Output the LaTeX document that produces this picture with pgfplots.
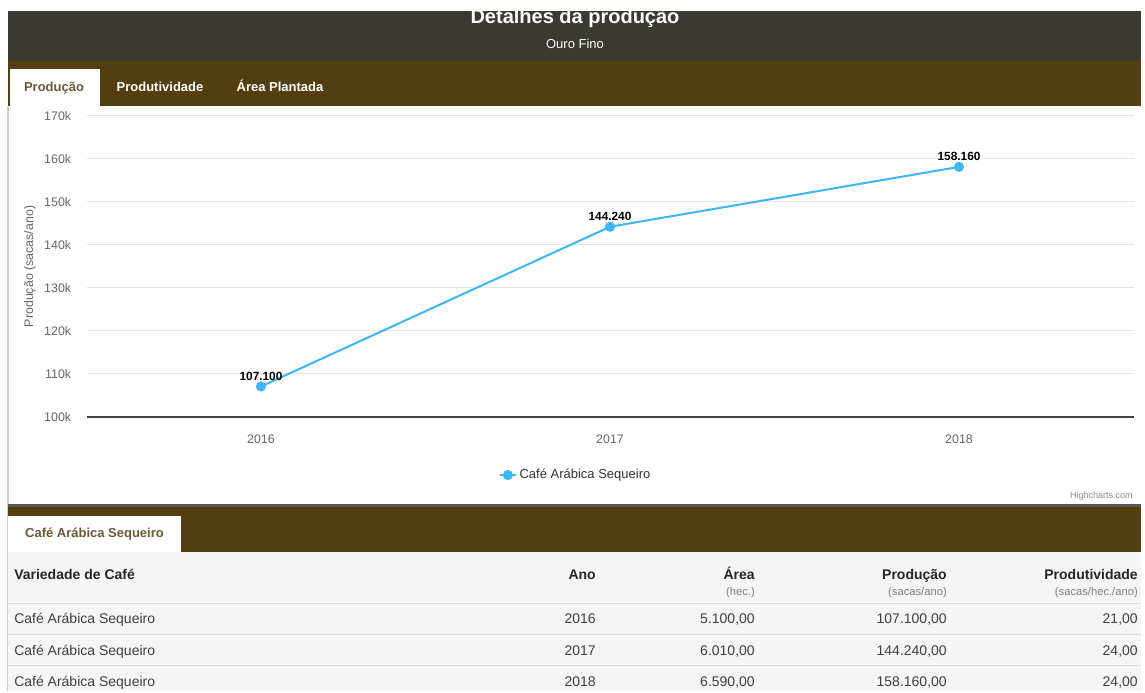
\documentclass[border=0pt]{standalone}
\usepackage{fontspec}
\setmainfont{Liberation Sans}
\usepackage{pgfplots}
\pgfplotsset{compat=1.18}
\definecolor{hdr}{HTML}{3A3A33}
\definecolor{brownbar}{HTML}{533E10}
\definecolor{tabtxt}{HTML}{6B5A3A}
\definecolor{serie}{HTML}{3DB6F7}
\definecolor{gridc}{HTML}{E6E6E6}
\definecolor{tickc}{HTML}{666666}
\definecolor{tblbg}{HTML}{F5F5F5}
\definecolor{sepc}{HTML}{DDDDDD}
\definecolor{bordc}{HTML}{D3CEC6}
\newcommand{\fs}[1]{\fontsize{#1}{#1}\selectfont}
\begin{document}
\begin{tikzpicture}[x=0.75pt,y=0.75pt]
% background
\fill[white] (0,0) rectangle (1145,691);
% header
\fill[hdr] (8,680) rectangle (1141,630);
\node[white,inner sep=0,anchor=base] at (575,667) {\fs{15}\bfseries Detalhes da produção};
\fill[white] (0,691) rectangle (1145,681);
\node[white,inner sep=0,anchor=base] at (575,642) {\fs{9.75}Ouro Fino};
% tab bar
\fill[brownbar] (8,630) rectangle (1141,585);
\fill[white] (10,622) rectangle (100,585);
\node[tabtxt,inner sep=0,anchor=base] at (54,599) {\fs{9.75}\bfseries Produção};
\node[white,inner sep=0,anchor=base] at (160,599) {\fs{9.75}\bfseries Produtividade};
\node[white,inner sep=0,anchor=base] at (280,599) {\fs{9.75}\bfseries Área Plantada};
% left border
\draw[bordc,line width=1.5pt] (7.5,585) -- (7.5,0);
% chart
\begin{axis}[
  at={(64.875pt,205.5pt)}, anchor=south west,
  scale only axis, width=785.25pt, height=225.75pt,
  xmin=-0.5, xmax=2.5, ymin=100000, ymax=170000,
  scaled ticks=false,
  xtick={0,1,2}, xticklabels={2016,2017,2018},
  ytick={110000,120000,130000,140000,150000,160000,170000},
  yticklabels={110k,120k,130k,140k,150k,160k,170k},
  extra y ticks={100000}, extra y tick labels={100k},
  extra y tick style={grid style={color=black!75,line width=0.9pt}},
  ymajorgrids, grid style={color=gridc,line width=0.75pt},
  major tick length=0pt,
  axis line style={draw=none},
  tick label style={font=\fs{9.3}, text=tickc},
  yticklabel style={xshift=-8pt},
  xticklabel style={yshift=-10pt},
  ylabel={Produção (sacas/ano)},
  ylabel style={at={(rel axis cs:-0.054,0.5)}, anchor=center, font=\fs{9.3}, text=tickc},
  legend style={at={(0.4675,-0.193)}, anchor=center, draw=none, fill=none, font=\fs{9.75}, text=black!80},
  legend image code/.code={\draw[mark repeat=2,mark phase=2,#1] plot coordinates {(0pt,0pt) (6pt,0pt) (12pt,0pt)};},
  clip=false,
]
\addplot[serie, line width=1.5pt, mark=*, mark size=3pt, mark options={fill=serie,draw=serie},
  nodes near coords, point meta=explicit symbolic,
  every node near coord/.append style={font=\fs{8.9}\bfseries, text=black, yshift=0.5pt}]
  coordinates {(0,107100) [107.100] (1,144240) [144.240] (2,158160) [158.160]};
\addlegendentry{Café Arábica Sequeiro}
\end{axis}
\node[anchor=east,inner sep=0,text=black!45] at (1133,195) {\fs{6.75}Highcharts.com};
% bottom bar
\fill[black!65] (8,187) rectangle (1141,184);
\fill[brownbar] (8,184) rectangle (1141,139);
\fill[white] (8,175) rectangle (181,139);
\node[tabtxt,inner sep=0,anchor=base] at (94.5,153) {\fs{9.75}\bfseries Café Arábica Sequeiro};
% table
\fill[tblbg] (8,139) rectangle (1141,0);
\foreach \yy in {87,56,25} \draw[sepc,line width=0.75pt] (8,\yy) -- (1141,\yy);
\begin{scope}[every node/.style={inner sep=0,text=black!85}]
\node[anchor=base west] at (14,111) {\fs{10.5}\bfseries Variedade de Café};
\node[anchor=base east] at (596,111) {\fs{10.5}\bfseries Ano};
\node[anchor=base east] at (755,111) {\fs{10.5}\bfseries Área};
\node[anchor=base east] at (947,111) {\fs{10.5}\bfseries Produção};
\node[anchor=base east] at (1138,111) {\fs{10.5}\bfseries Produtividade};
\end{scope}
\begin{scope}[every node/.style={inner sep=0,text=black!50}]
\node[anchor=base east] at (755,95) {\fs{8.4}(hec.)};
\node[anchor=base east] at (947,95) {\fs{8.4}(sacas/ano)};
\node[anchor=base east] at (1138,95) {\fs{8.4}(sacas/hec./ano)};
\end{scope}
\begin{scope}[every node/.style={inner sep=0,text=black!75}]
\node[anchor=base west] at (14,67) {\fs{10.5}Café Arábica Sequeiro};
\node[anchor=base east] at (596,67) {\fs{10.5}2016};
\node[anchor=base east] at (755,67) {\fs{10.5}5.100,00};
\node[anchor=base east] at (947,67) {\fs{10.5}107.100,00};
\node[anchor=base east] at (1138,67) {\fs{10.5}21,00};
\node[anchor=base west] at (14,36) {\fs{10.5}Café Arábica Sequeiro};
\node[anchor=base east] at (596,36) {\fs{10.5}2017};
\node[anchor=base east] at (755,36) {\fs{10.5}6.010,00};
\node[anchor=base east] at (947,36) {\fs{10.5}144.240,00};
\node[anchor=base east] at (1138,36) {\fs{10.5}24,00};
\node[anchor=base west] at (14,5) {\fs{10.5}Café Arábica Sequeiro};
\node[anchor=base east] at (596,5) {\fs{10.5}2018};
\node[anchor=base east] at (755,5) {\fs{10.5}6.590,00};
\node[anchor=base east] at (947,5) {\fs{10.5}158.160,00};
\node[anchor=base east] at (1138,5) {\fs{10.5}24,00};
\end{scope}
\end{tikzpicture}
\end{document}
